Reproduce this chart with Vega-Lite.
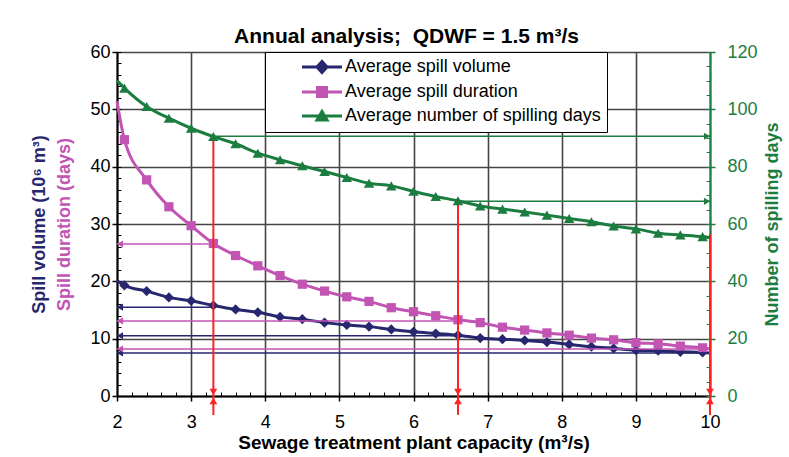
{
"$schema":"https://vega.github.io/schema/vega-lite/v6.json",
"width":593,"height":344,
"autosize":{"type":"none"},
"padding":{"left":117,"top":52,"right":79,"bottom":61},
"background":"white",
"config":{"font":"Liberation Sans","view":{"stroke":null}},
"title":{"text":"Annual analysis;\u00a0 QDWF = 1.5 m³/s","fontSize":21,"fontWeight":"bold","color":"black","anchor":"middle","frame":"group","offset":3,"dx":-7,"dy":7},
"datasets":{
"curves":[
{"x":2.0,"Average spill volume":20.1,"Average spill duration":51.4,"Average number of spilling days":110.0},
{"x":2.1,"Average spill volume":19.3,"Average spill duration":44.7,"Average number of spilling days":107.4},
{"x":2.4,"Average spill volume":18.3,"Average spill duration":37.7,"Average number of spilling days":101.0},
{"x":2.7,"Average spill volume":17.2,"Average spill duration":33.0,"Average number of spilling days":96.9},
{"x":3.0,"Average spill volume":16.6,"Average spill duration":29.7,"Average number of spilling days":93.4},
{"x":3.3,"Average spill volume":15.8,"Average spill duration":26.6,"Average number of spilling days":90.5},
{"x":3.6,"Average spill volume":15.1,"Average spill duration":24.5,"Average number of spilling days":88.0},
{"x":3.9,"Average spill volume":14.6,"Average spill duration":22.7,"Average number of spilling days":84.7},
{"x":4.2,"Average spill volume":13.8,"Average spill duration":21.0,"Average number of spilling days":82.4},
{"x":4.5,"Average spill volume":13.4,"Average spill duration":19.5,"Average number of spilling days":80.3},
{"x":4.8,"Average spill volume":12.8,"Average spill duration":18.3,"Average number of spilling days":78.3},
{"x":5.1,"Average spill volume":12.4,"Average spill duration":17.3,"Average number of spilling days":76.2},
{"x":5.4,"Average spill volume":12.1,"Average spill duration":16.5,"Average number of spilling days":74.2},
{"x":5.7,"Average spill volume":11.6,"Average spill duration":15.4,"Average number of spilling days":73.3},
{"x":6.0,"Average spill volume":11.2,"Average spill duration":14.7,"Average number of spilling days":71.4},
{"x":6.3,"Average spill volume":10.9,"Average spill duration":14.0,"Average number of spilling days":69.6},
{"x":6.6,"Average spill volume":10.6,"Average spill duration":13.3,"Average number of spilling days":68.1},
{"x":6.9,"Average spill volume":10.1,"Average spill duration":12.8,"Average number of spilling days":66.3},
{"x":7.2,"Average spill volume":9.9,"Average spill duration":12.0,"Average number of spilling days":65.2},
{"x":7.5,"Average spill volume":9.7,"Average spill duration":11.5,"Average number of spilling days":64.2},
{"x":7.8,"Average spill volume":9.4,"Average spill duration":11.0,"Average number of spilling days":63.1},
{"x":8.1,"Average spill volume":9.0,"Average spill duration":10.6,"Average number of spilling days":61.9},
{"x":8.4,"Average spill volume":8.6,"Average spill duration":10.1,"Average number of spilling days":60.8},
{"x":8.7,"Average spill volume":8.3,"Average spill duration":9.8,"Average number of spilling days":59.3},
{"x":9.0,"Average spill volume":8.0,"Average spill duration":9.3,"Average number of spilling days":58.3},
{"x":9.3,"Average spill volume":7.9,"Average spill duration":9.1,"Average number of spilling days":56.8},
{"x":9.6,"Average spill volume":7.7,"Average spill duration":8.7,"Average number of spilling days":56.2},
{"x":9.9,"Average spill volume":7.6,"Average spill duration":8.4,"Average number of spilling days":55.6},
{"x":10.0,"Average spill volume":7.5,"Average spill duration":8.2,"Average number of spilling days":55.3}
],
"arrows":[
{"series":"Average spill volume","from":3.3,"to":2,"value":15.5},
{"series":"Average spill volume","from":6.6,"to":2,"value":10.5},
{"series":"Average spill volume","from":10,"to":2,"value":7.5},
{"series":"Average spill duration","from":3.3,"to":2,"value":26.5},
{"series":"Average spill duration","from":6.6,"to":2,"value":13.1},
{"series":"Average spill duration","from":10,"to":2,"value":8.2},
{"series":"Average number of spilling days","from":3.3,"to":10,"value":90.6},
{"series":"Average number of spilling days","from":6.6,"to":10,"value":67.9}
],
"drops":[
{"x":3.3,"top":45.3,"bottom":-3.3},
{"x":6.6,"top":34.0,"bottom":-3.3},
{"x":10,"top":28.3,"bottom":-3.3}
]
},
"resolve":{"scale":{"y":"independent"}},
"layer":[
{"resolve":{"axis":{"x":"independent","y":"independent"}},
"layer":[
{"data":{"name":"curves"},
"transform":[{"fold":["Average spill volume","Average spill duration"],"as":["series","value"]}],
"mark":{"type":"line","strokeWidth":3,"interpolate":"monotone"},
"encoding":{
"x":{"field":"x","type":"quantitative","scale":{"domain":[2,10],"nice":false,"zero":false},
"axis":{"orient":"bottom","values":[2,3,4,5,6,7,8,9,10],"grid":true,"gridColor":"#454545","gridWidth":1.6,"domainColor":"black","domainWidth":2,"tickColor":"black","tickWidth":1.5,"tickSize":5,"labelFontSize":18,"labelColor":"black","labelPadding":12,"labelFlush":false,"title":"Sewage treatment plant capacity (m³/s)","titleFontSize":19,"titleFontWeight":"bold","titleColor":"black","titlePadding":2}},
"y":{"field":"value","type":"quantitative","scale":{"domain":[0,60],"nice":false,"zero":false},
"axis":{"orient":"left","values":[0,10,20,30,40,50,60],"grid":true,"gridColor":"#454545","gridWidth":1.6,"domainColor":"black","domainWidth":2,"tickColor":"black","tickWidth":1.5,"tickSize":5,"labelFontSize":18,"labelColor":"black","labelPadding":2,"title":"Spill volume (10⁶ m³)","titleColor":"#27276F","titleFontSize":18,"titleFontWeight":"bold","titlePadding":41}},
"color":{"field":"series","type":"nominal",
"scale":{"domain":["Average spill volume","Average spill duration","Average number of spilling days"],"range":["#27276F","#C254B3","#1B7D3F"]},
"legend":{"orient":"none","legendX":148,"legendY":0,"title":null,"fillColor":"white","strokeColor":"black","padding":6,"symbolOffset":42,"symbolSize":100,"symbolStrokeWidth":3,"symbolOpacity":1,"labelFontSize":18,"labelColor":"black","labelOffset":14,"rowPadding":2,"labelLimit":0,
"labelExpr":"datum.label + '\u00a0\u00a0\u00a0\u00a0\u00a0\u00a0'",
"encode":{"symbols":{"update":{
"shape":{"signal":"datum.value === 'Average spill volume' ? 'M-4,0H4M0,-1.1L1,0L0,1.1L-1,0Z' : datum.value === 'Average spill duration' ? 'M-4,0H4M-0.9,-0.9H0.9V0.9H-0.9Z' : 'M-4,0H4M0,-0.9L1,0.8H-1Z'"},
"fill":{"scale":"color","field":"value"},"stroke":{"scale":"color","field":"value"},"strokeWidth":{"value":3},"opacity":{"value":1}}}}}}
}},
{"data":{"name":"curves"},
"transform":[{"fold":["Average spill volume"],"as":["series","value"]},{"filter":"datum.x > 2.05 && datum.x < 9.95"}],
"mark":{"type":"point","filled":true,"shape":"diamond","size":105,"opacity":1},
"encoding":{
"x":{"field":"x","type":"quantitative","axis":{"orient":"bottom","values":[2,2.2,2.4,2.6,2.8,3,3.2,3.4,3.6,3.8,4,4.2,4.4,4.6,4.8,5,5.2,5.4,5.6,5.8,6,6.2,6.4,6.6,6.8,7,7.2,7.4,7.6,7.8,8,8.2,8.4,8.6,8.8,9,9.2,9.4,9.6,9.8,10],"tickSize":-4,"tickColor":"black","tickWidth":1,"labels":false,"domain":false,"grid":false,"title":null}},
"y":{"field":"value","type":"quantitative","axis":{"orient":"left","values":[0,2,4,6,8,10,12,14,16,18,20,22,24,26,28,30,32,34,36,38,40,42,44,46,48,50,52,54,56,58,60],"tickSize":-4,"tickColor":"black","tickWidth":1,"labels":false,"domain":false,"grid":false,"title":"Spill duration (days)","titleColor":"#C254B3","titleFontSize":18,"titleFontWeight":"bold","titlePadding":43}},
"color":{"field":"series","type":"nominal","scale":{"domain":["Average spill volume","Average spill duration","Average number of spilling days"],"range":["#27276F","#C254B3","#1B7D3F"]}}
}},
{"data":{"name":"curves"},
"transform":[{"fold":["Average spill duration"],"as":["series","value"]},{"filter":"datum.x > 2.05 && datum.x < 9.95"}],
"mark":{"type":"point","filled":true,"shape":"square","size":85,"opacity":1},
"encoding":{
"x":{"field":"x","type":"quantitative","axis":null},
"y":{"field":"value","type":"quantitative","axis":null},
"color":{"field":"series","type":"nominal","scale":{"domain":["Average spill volume","Average spill duration","Average number of spilling days"],"range":["#27276F","#C254B3","#1B7D3F"]}}
}},
{"data":{"name":"arrows"},
"transform":[{"filter":"datum.series !== 'Average number of spilling days'"}],
"mark":{"type":"rule","strokeWidth":1.5},
"encoding":{
"x":{"field":"from","type":"quantitative","axis":null},
"x2":{"field":"to"},
"y":{"field":"value","type":"quantitative","axis":null},
"color":{"field":"series","type":"nominal","scale":{"domain":["Average spill volume","Average spill duration","Average number of spilling days"],"range":["#27276F","#C254B3","#1B7D3F"]}}
}},
{"data":{"name":"arrows"},
"transform":[{"filter":"datum.series !== 'Average number of spilling days'"}],
"mark":{"type":"point","filled":true,"shape":"triangle-left","size":50,"opacity":1,"xOffset":3},
"encoding":{
"x":{"field":"to","type":"quantitative","axis":null},
"y":{"field":"value","type":"quantitative","axis":null},
"color":{"field":"series","type":"nominal","scale":{"domain":["Average spill volume","Average spill duration","Average number of spilling days"],"range":["#27276F","#C254B3","#1B7D3F"]}}
}},
{"data":{"name":"drops"},
"mark":{"type":"rule","strokeWidth":2,"color":"#FF2222"},
"encoding":{
"x":{"field":"x","type":"quantitative","axis":null},
"y":{"field":"top","type":"quantitative","axis":null},
"y2":{"field":"bottom"}
}},
{"data":{"name":"drops"},
"mark":{"type":"point","filled":true,"shape":"triangle-down","size":60,"opacity":1,"color":"#FF2222","yOffset":-4},
"encoding":{
"x":{"field":"x","type":"quantitative","axis":null},
"y":{"datum":0,"type":"quantitative","axis":null}
}},
{"data":{"name":"drops"},
"mark":{"type":"point","filled":true,"shape":"triangle-up","size":60,"opacity":1,"color":"#FF2222","yOffset":5},
"encoding":{
"x":{"field":"x","type":"quantitative","axis":null},
"y":{"datum":0,"type":"quantitative","axis":null}
}}
]},
{"resolve":{"axis":{"y":"independent"}},
"layer":[
{"data":{"name":"curves"},
"transform":[{"fold":["Average number of spilling days"],"as":["series","value"]}],
"mark":{"type":"line","strokeWidth":3,"interpolate":"monotone"},
"encoding":{
"x":{"field":"x","type":"quantitative","axis":null},
"y":{"field":"value","type":"quantitative","scale":{"domain":[0,120],"nice":false,"zero":false},
"axis":{"orient":"right","values":[0,20,40,60,80,100,120],"grid":false,"domainColor":"#1B7D3F","domainWidth":2,"tickColor":"#1B7D3F","tickWidth":1.5,"tickSize":5,"labelFontSize":18,"labelColor":"#1B7D3F","labelPadding":12,"title":"Number of spilling days","titleColor":"#1B7D3F","titleFontSize":18,"titleFontWeight":"bold","titleAngle":270,"titleBaseline":"top","titlePadding":6}},
"color":{"field":"series","type":"nominal","scale":{"domain":["Average spill volume","Average spill duration","Average number of spilling days"],"range":["#27276F","#C254B3","#1B7D3F"]}}
}},
{"data":{"name":"curves"},
"transform":[{"fold":["Average number of spilling days"],"as":["series","value"]},{"filter":"datum.x > 2.05 && datum.x < 9.95"}],
"mark":{"type":"point","filled":true,"shape":"triangle-up","size":110,"opacity":1},
"encoding":{
"x":{"field":"x","type":"quantitative","axis":null},
"y":{"field":"value","type":"quantitative","axis":{"orient":"right","values":[0,5,10,15,20,25,30,35,40,45,50,55,60,65,70,75,80,85,90,95,100,105,110,115,120],"tickSize":-4,"tickColor":"#1B7D3F","tickWidth":1,"labels":false,"domain":false,"grid":false,"title":null}},
"color":{"field":"series","type":"nominal","scale":{"domain":["Average spill volume","Average spill duration","Average number of spilling days"],"range":["#27276F","#C254B3","#1B7D3F"]}}
}},
{"data":{"name":"arrows"},
"transform":[{"filter":"datum.series === 'Average number of spilling days'"}],
"mark":{"type":"rule","strokeWidth":1.5},
"encoding":{
"x":{"field":"from","type":"quantitative","axis":null},
"x2":{"field":"to"},
"y":{"field":"value","type":"quantitative","axis":null},
"color":{"field":"series","type":"nominal","scale":{"domain":["Average spill volume","Average spill duration","Average number of spilling days"],"range":["#27276F","#C254B3","#1B7D3F"]}}
}},
{"data":{"name":"arrows"},
"transform":[{"filter":"datum.series === 'Average number of spilling days'"}],
"mark":{"type":"point","filled":true,"shape":"triangle-right","size":50,"opacity":1,"xOffset":-3},
"encoding":{
"x":{"field":"to","type":"quantitative","axis":null},
"y":{"field":"value","type":"quantitative","axis":null},
"color":{"field":"series","type":"nominal","scale":{"domain":["Average spill volume","Average spill duration","Average number of spilling days"],"range":["#27276F","#C254B3","#1B7D3F"]}}
}}
]}
]
}
